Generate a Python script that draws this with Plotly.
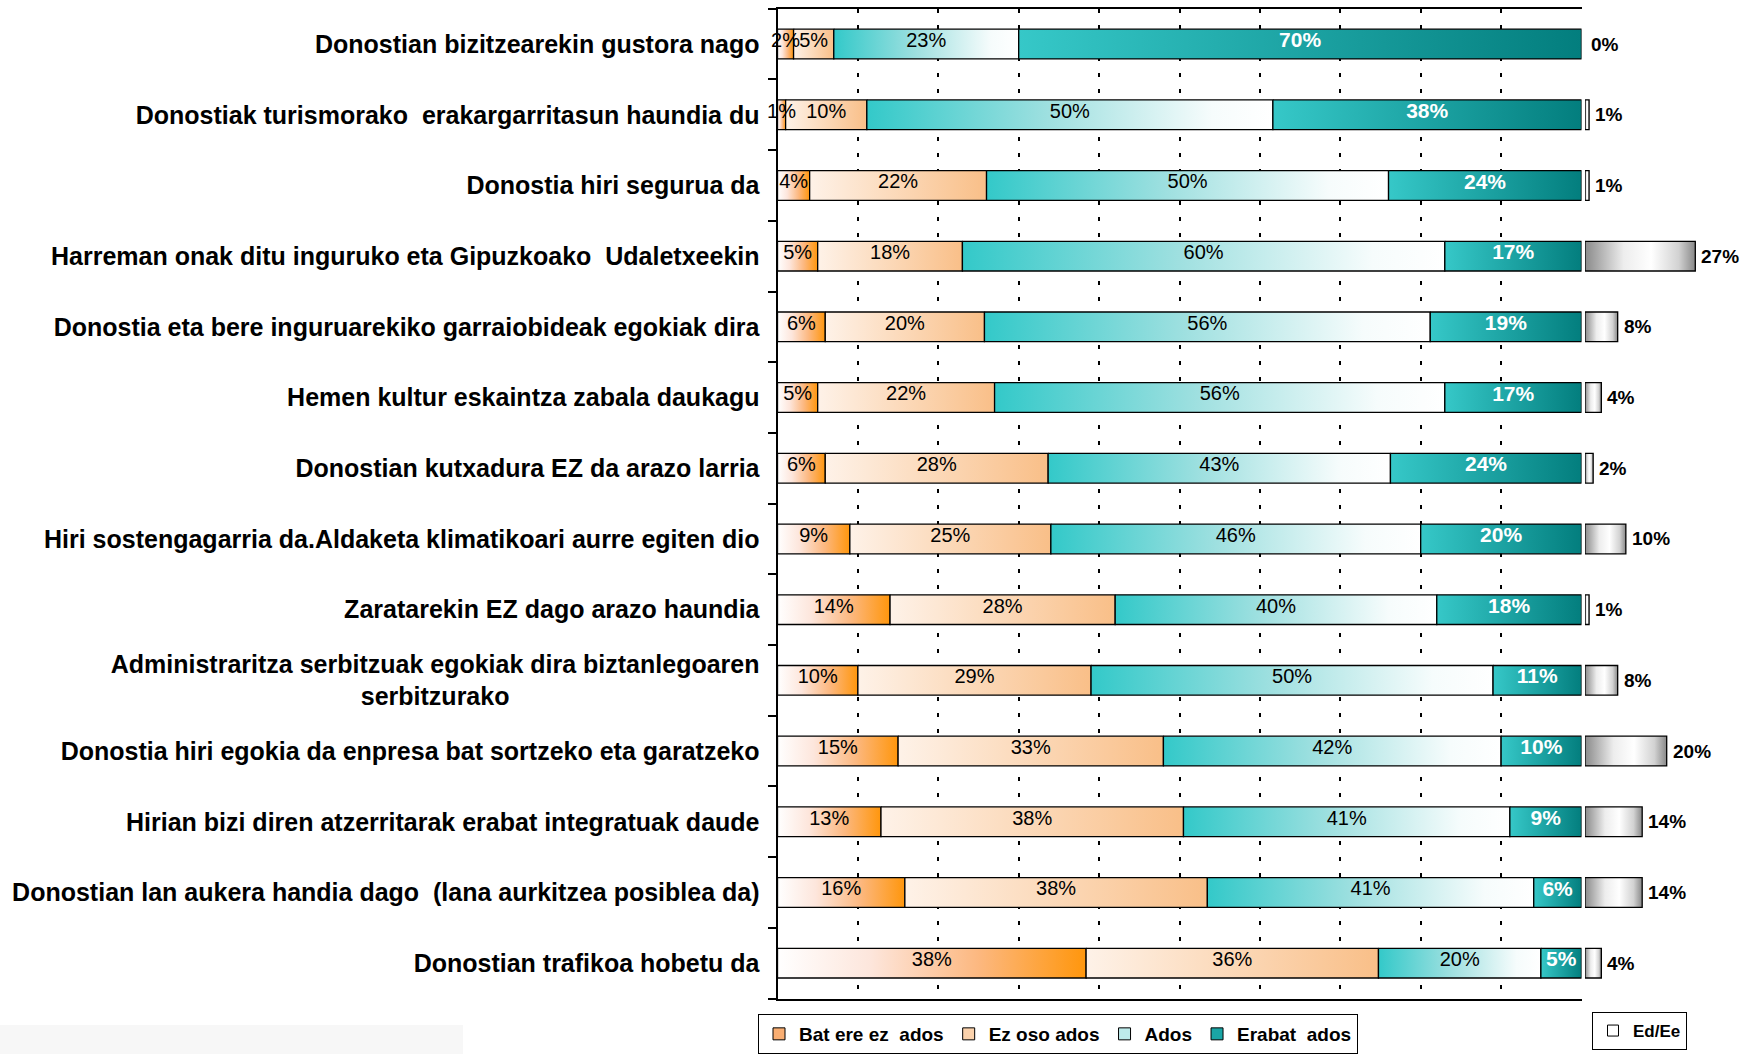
import plotly.graph_objects as go

categories = [
    "Donostian bizitzearekin gustora nago",
    "Donostiak turismorako\u00a0 erakargarritasun haundia du",
    "Donostia hiri segurua da",
    "Harreman onak ditu inguruko eta Gipuzkoako\u00a0 Udaletxeekin",
    "Donostia eta bere inguruarekiko garraiobideak egokiak dira",
    "Hemen kultur eskaintza zabala daukagu",
    "Donostian kutxadura EZ da arazo larria",
    "Hiri sostengagarria da.Aldaketa klimatikoari aurre egiten dio",
    "Zaratarekin EZ dago arazo haundia",
    "Administraritza serbitzuak egokiak dira biztanlegoaren<br>serbitzurako" + "\u00a0" * 36,
    "Donostia hiri egokia da enpresa bat sortzeko eta garatzeko",
    "Hirian bizi diren atzerritarak erabat integratuak daude",
    "Donostian lan aukera handia dago\u00a0 (lana aurkitzea posiblea da)",
    "Donostian trafikoa hobetu da",
]

series_names = ["Bat ere ez\u00a0 ados", "Ez oso ados", "Ados", "Erabat\u00a0 ados"]
bat_ere_ez = [2, 1, 4, 5, 6, 5, 6, 9, 14, 10, 15, 13, 16, 38]
ez_oso = [5, 10, 22, 18, 20, 22, 28, 25, 28, 29, 33, 38, 38, 36]
ados = [23, 50, 50, 60, 56, 56, 43, 46, 40, 50, 42, 41, 41, 20]
erabat = [70, 38, 24, 17, 19, 17, 24, 20, 18, 11, 10, 9, 6, 5]
ed_ee = [0, 1, 1, 27, 8, 4, 2, 10, 1, 8, 20, 14, 14, 4]

series = [bat_ere_ez, ez_oso, ados, erabat]

scales = [
    [[0, "#FFFFFF"], [0.3, "#FDE6DC"], [0.65, "#FCB880"], [1, "#FF960C"]],
    [[0, "#FEF2E8"], [1, "#F9BF88"]],
    [[0, "#33C9C9"], [0.45, "#9FE0E0"], [0.85, "#F6FCFC"], [1, "#FFFFFF"]],
    [[0, "#36C8C8"], [1, "#037E7E"]],
]
legend_colors = ["#F9AE72", "#FBD2AC", "#BDEBEB", "#1AA5A5"]
ed_scale = [[0, "#8A8A8A"], [0.35, "#EDEDED"], [0.6, "#FFFFFF"], [0.85, "#D2D2D2"], [1, "#888888"]]

FONT = "Liberation Sans, Arial, sans-serif"
H = 0.21  # bar half height (category units)

fig = go.Figure()

n = len(categories)
for i in range(n):
    vals = [s[i] for s in series]
    total = sum(vals)
    cum = 0.0
    for k, v in enumerate(vals):
        w = v / total * 100.0
        x0, x1 = cum, cum + w
        fig.add_trace(go.Scatter(
            x=[x0, x1, x1, x0, x0], y=[i - H, i - H, i + H, i + H, i - H],
            mode="lines", fill="toself",
            fillgradient=dict(type="horizontal", colorscale=scales[k]),
            line=dict(color="black", width=1.3),
            hoverinfo="skip", showlegend=False,
        ))
        cum = x1

# value labels
for k, s in enumerate(series):
    xs, ys, ts = [], [], []
    for i in range(n):
        vals = [ss[i] for ss in series]
        total = sum(vals)
        start = sum(vals[:k]) / total * 100.0
        w = vals[k] / total * 100.0
        xs.append(start + w / 2)
        ys.append(i - 0.03)
        ts.append(f"{s[i]}%")
    fig.add_trace(go.Scatter(
        x=xs, y=ys, text=ts, mode="text", textposition="middle center",
        textfont=dict(family=FONT, size=21 if k == 3 else 20,
                      color="white" if k == 3 else "black",
                      weight="bold" if k == 3 else "normal"),
        cliponaxis=False, hoverinfo="skip", showlegend=False,
    ))

# Ed/Ee bars
for i in range(n):
    v = ed_ee[i]
    if v <= 0:
        continue
    fig.add_trace(go.Scatter(
        x=[0, v, v, 0, 0], y=[i - H, i - H, i + H, i + H, i - H],
        xaxis="x2", yaxis="y",
        mode="lines", fill="toself",
        fillgradient=dict(type="horizontal", colorscale=ed_scale),
        line=dict(color="black", width=1.3),
        hoverinfo="skip", showlegend=False,
    ))

annotations = []
for i in range(n):
    annotations.append(dict(
        x=ed_ee[i], y=i, xref="x2", yref="y", text=f"{ed_ee[i]}%",
        showarrow=False, xanchor="left", yanchor="middle", xshift=4,
        font=dict(family=FONT, size=19, color="black", weight="bold"),
    ))

# legend entries
for k, name in enumerate(series_names):
    fig.add_trace(go.Scatter(
        x=[None], y=[None], mode="markers", name=name,
        marker=dict(symbol="square", size=12, color=legend_colors[k],
                    line=dict(color="black", width=1)),
        legend="legend",
    ))
fig.add_trace(go.Scatter(
    x=[None], y=[None], mode="markers", name="Ed/Ee",
    marker=dict(symbol="square", size=11, color="white",
                line=dict(color="black", width=1)),
    legend="legend2",
))

W, HT = 1746, 1054


def px(v):
    return v / W


def py(v):
    return 1 - v / HT


ED_PX_PER_PCT = 4.085
ed_left = 1585

fig.update_layout(
    width=W, height=HT,
    margin=dict(l=0, r=0, t=0, b=0),
    paper_bgcolor="white", plot_bgcolor="rgba(0,0,0,0)",
    font=dict(family=FONT, color="black"),
    annotations=annotations,
    xaxis=dict(
        domain=[px(777.5), px(1581.5)], range=[0, 100], dtick=10, tick0=0,
        showgrid=True, gridcolor="black", gridwidth=2, griddash="4px,12px",
        showticklabels=False, ticks="", zeroline=False,
        showline=True, linecolor="black", linewidth=2, mirror=True,
        anchor="y", fixedrange=True,
    ),
    xaxis2=dict(
        domain=[px(ed_left), 1.0],
        range=[0, (W - ed_left) / ED_PX_PER_PCT],
        visible=False, anchor="y", showgrid=False, zeroline=False,
    ),
    yaxis=dict(
        domain=[py(998.5), py(8.7)], range=[n - 0.5, -0.5],
        tickmode="array", tickvals=list(range(n)), ticktext=categories,
        ticks="", showgrid=False, zeroline=False,
        showline=True, linecolor="black", linewidth=2,
        tickfont=dict(family=FONT, size=25, color="black", weight="bold"),
        ticklabelstandoff=11, automargin=False,
        minor=dict(tickmode="array", tickvals=[j - 0.5 for j in range(n + 1)],
                   ticks="outside", ticklen=8, tickwidth=1.5, tickcolor="black",
                   showgrid=False),
    ),
    legend=dict(
        orientation="h", x=px(758), xanchor="left", y=0.0, yanchor="bottom",
        bordercolor="black", borderwidth=1, bgcolor="white",
        font=dict(family=FONT, size=19, color="black", weight="bold"),
        itemwidth=30, tracegroupgap=0,
    ),
    legend2=dict(
        orientation="h", x=px(1592), xanchor="left", y=py(1050), yanchor="bottom",
        bordercolor="black", borderwidth=1, bgcolor="white",
        font=dict(family=FONT, size=17, color="black", weight="bold"),
        itemwidth=30,
    ),
    shapes=[dict(type="rect", xref="paper", yref="paper", x0=0, x1=px(463),
                 y0=0, y1=py(1025), fillcolor="#F7F7F7", line=dict(width=0),
                 layer="below")],
)

fig.write_html(
    "out.html",
    config={"displayModeBar": False},
    post_script="document.body.style.margin='0px';"
                "document.documentElement.style.overflow='hidden';",
)
